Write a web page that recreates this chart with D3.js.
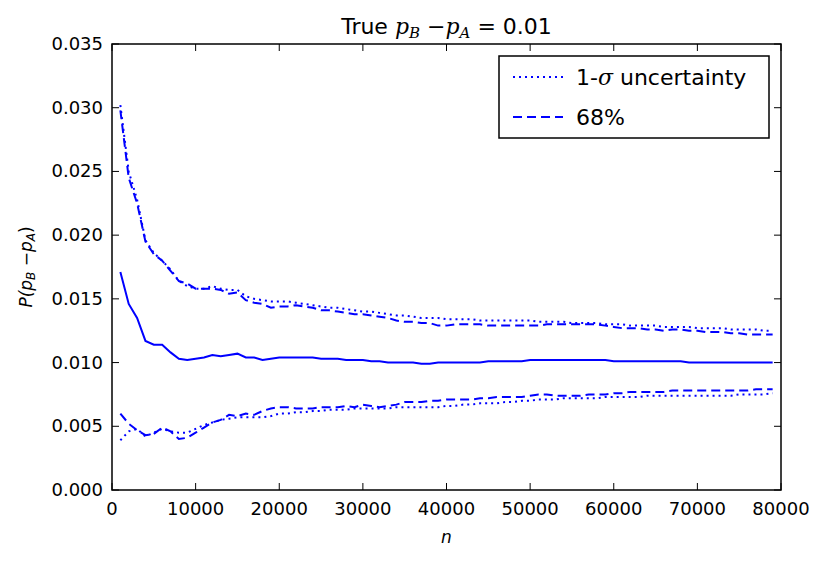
<!DOCTYPE html>
<html><head><meta charset="utf-8">
<script src="https://cdn.jsdelivr.net/npm/d3@7"></script>
<style>body{margin:0;background:#fff}text{font-family:"DejaVu Sans";}</style>
</head><body><svg id="c" width="826" height="561"></svg>
<script>
const nValues = d3.range(1000, 80000, 1000);
const meanDiff = [.0171,.0146,.0135,.0117,.0114,.0114,.0108,.0103,.0102,.0103,.0104,.0106,.0105,.0106,.0107,.0104,.0104,.0102,.0103,.0104,
.0104,.0104,.0104,.0104,.0103,.0103,.0103,.0102,.0102,.0102,.0101,.0101,.0100,.0100,.0100,.0100,.0099,.0099,.0100,.0100,
.0100,.0100,.0100,.0100,.0101,.0101,.0101,.0101,.0101,.0102,.0102,.0102,.0102,.0102,.0102,.0102,.0102,.0102,.0102,.0101,
.0101,.0101,.0101,.0101,.0101,.0101,.0101,.0101,.0100,.0100,.0100,.0100,.0100,.0100,.0100,.0100,.0100,.0100,.0100];
const sigmaHi = [.0302,.0250,.0228,.0196,.0186,.0180,.0173,.0164,.0160,.0158,.0158,.0160,.0158,.0157,.0157,.0152,.0150,.0149,.0148,.0148,
.0148,.0147,.0146,.0145,.0144,.0143,.0143,.0142,.0141,.0140,.0140,.0139,.0138,.0137,.0137,.0136,.0135,.0135,.0135,.0134,
.0134,.0134,.0134,.0133,.0133,.0133,.0133,.0133,.0133,.0133,.0132,.0132,.0132,.0132,.0131,.0131,.0131,.0131,.0130,.0130,
.0130,.0129,.0129,.0129,.0129,.0128,.0128,.0128,.0128,.0127,.0127,.0127,.0127,.0126,.0126,.0126,.0126,.0125,.0125];
const q68Hi = [.0298,.0245,.0225,.0195,.0185,.0180,.0172,.0164,.0162,.0158,.0158,.0158,.0157,.0154,.0155,.0149,.0147,.0146,.0143,.0144,
.0144,.0145,.0144,.0143,.0141,.0141,.0140,.0139,.0138,.0138,.0137,.0136,.0135,.0133,.0132,.0132,.0131,.0131,.0129,.0129,
.0130,.0130,.0130,.0130,.0129,.0129,.0129,.0129,.0129,.0129,.0129,.0130,.0130,.0130,.0130,.0130,.0130,.0130,.0129,.0128,
.0127,.0127,.0127,.0126,.0126,.0125,.0126,.0126,.0125,.0125,.0124,.0124,.0124,.0123,.0123,.0122,.0122,.0122,.0122];
const sigmaLo = [.0039,.0046,.0048,.0042,.0045,.0048,.0046,.0045,.0045,.0048,.0051,.0053,.0055,.0056,.0057,.0057,.0057,.0057,.0058,.0060,
.0060,.0061,.0061,.0062,.0062,.0063,.0063,.0063,.0064,.0064,.0064,.0064,.0064,.0065,.0065,.0065,.0065,.0065,.0065,.0066,
.0066,.0067,.0067,.0068,.0068,.0068,.0069,.0069,.0070,.0070,.0071,.0071,.0071,.0072,.0072,.0072,.0072,.0072,.0073,.0073,
.0073,.0073,.0073,.0074,.0074,.0074,.0074,.0074,.0074,.0074,.0074,.0074,.0074,.0074,.0075,.0075,.0075,.0075,.0076];
const q68Lo = [.0060,.0052,.0047,.0043,.0044,.0049,.0046,.0040,.0041,.0045,.0049,.0053,.0055,.0059,.0058,.0060,.0059,.0062,.0064,.0065,
.0065,.0064,.0064,.0064,.0065,.0065,.0065,.0066,.0065,.0067,.0066,.0065,.0066,.0067,.0069,.0069,.0069,.0070,.0070,.0071,
.0071,.0071,.0071,.0072,.0072,.0073,.0073,.0073,.0073,.0074,.0075,.0075,.0074,.0074,.0074,.0074,.0075,.0075,.0075,.0076,
.0076,.0077,.0077,.0077,.0077,.0077,.0078,.0078,.0078,.0078,.0078,.0078,.0078,.0078,.0078,.0078,.0079,.0079,.0079];
const xTicks = d3.range(0, 80001, 10000);
const yTicks = d3.range(0, 0.03501, 0.005);

const svg = d3.select('#c');
const L = 112, R = 781, T = 44, B = 490;
const x = d3.scaleLinear().domain([0, 80000]).range([L, R]);
const y = d3.scaleLinear().domain([0, 0.035]).range([B, T]);
const blue = '#0000ff';
const dotted = '2,4', dashed = '9,5';

const line = d3.line().x((d, i) => x(nValues[i])).y(d => y(d));
const series = [
    [meanDiff, null], [sigmaHi, dotted], [sigmaLo, dotted], [q68Hi, dashed], [q68Lo, dashed]
];
series.forEach(([vals, dash]) => {
    svg.append('path').attr('d', line(vals)).attr('fill', 'none')
        .attr('stroke', blue).attr('stroke-width', 2)
        .attr('stroke-dasharray', dash);
});

// inward ticks on all sides, like matplotlib classic
const g = svg.append('g');
xTicks.forEach(t => {
    g.append('line').attr('x1', x(t)).attr('x2', x(t)).attr('y1', B).attr('y2', B - 7).attr('stroke', '#000');
    g.append('line').attr('x1', x(t)).attr('x2', x(t)).attr('y1', T).attr('y2', T + 7).attr('stroke', '#000');
    g.append('text').attr('x', x(t)).attr('y', B + 25).attr('text-anchor', 'middle').attr('font-size', 18).text(t);
});
yTicks.forEach(t => {
    g.append('line').attr('x1', L).attr('x2', L + 7).attr('y1', y(t)).attr('y2', y(t)).attr('stroke', '#000');
    g.append('line').attr('x1', R).attr('x2', R - 7).attr('y1', y(t)).attr('y2', y(t)).attr('stroke', '#000');
    g.append('text').attr('x', L - 9).attr('y', y(t) + 6).attr('text-anchor', 'end').attr('font-size', 18).text(d3.format('.3f')(t));
});
svg.append('rect').attr('x', L).attr('y', T).attr('width', R - L).attr('height', B - T)
    .attr('fill', 'none').attr('stroke', '#000').attr('stroke-width', 1.5);

// title
const title = svg.append('text').attr('x', (L + R) / 2).attr('y', 34).attr('text-anchor', 'middle').attr('font-size', 22);
title.append('tspan').text('True ');
title.append('tspan').attr('font-family', 'DejaVu Serif').attr('font-style', 'italic').text('p');
title.append('tspan').attr('font-family', 'DejaVu Serif').attr('font-style', 'italic').attr('font-size', 15).attr('dy', 4).text('B');
title.append('tspan').attr('dy', -4).text(' \u2212');
title.append('tspan').attr('font-family', 'DejaVu Serif').attr('font-style', 'italic').text('p');
title.append('tspan').attr('font-family', 'DejaVu Serif').attr('font-style', 'italic').attr('font-size', 15).attr('dy', 4).text('A');
title.append('tspan').attr('dy', -4).text(' = 0.01');

// axis labels
svg.append('text').attr('x', (L + R) / 2).attr('y', 543).attr('text-anchor', 'middle')
    .attr('font-family', 'DejaVu Serif').attr('font-style', 'italic').attr('font-size', 17).text('n');
const yl = svg.append('text').attr('transform', `translate(32,${(T + B) / 2}) rotate(-90)`)
    .attr('text-anchor', 'middle').attr('font-family', 'DejaVu Serif').attr('font-style', 'italic').attr('font-size', 17);
yl.append('tspan').text('P(p');
yl.append('tspan').attr('font-size', 12).attr('dy', 3).text('B');
yl.append('tspan').attr('dy', -3).attr('font-style', 'normal').text(' \u2212');
yl.append('tspan').text('p');
yl.append('tspan').attr('font-size', 12).attr('dy', 3).text('A');
yl.append('tspan').attr('dy', -3).attr('font-style', 'normal').text(')');

// legend
const lg = svg.append('g');
lg.append('rect').attr('x', 499).attr('y', 56).attr('width', 270).attr('height', 82)
    .attr('fill', '#fff').attr('stroke', '#000').attr('stroke-width', 1.5);
[[dotted, 77], [dashed, 117]].forEach(([dash, ly]) => {
    lg.append('line').attr('x1', 513).attr('x2', 563).attr('y1', ly).attr('y2', ly)
        .attr('stroke', blue).attr('stroke-width', 2).attr('stroke-dasharray', dash);
});
const t1 = lg.append('text').attr('x', 576).attr('y', 85).attr('font-size', 22);
t1.append('tspan').text('1-');
t1.append('tspan').attr('font-family', 'DejaVu Serif').attr('font-style', 'italic').text('\u03c3');
t1.append('tspan').text(' uncertainty');
lg.append('text').attr('x', 576).attr('y', 125).attr('font-size', 22).text('68%');
</script></body></html>
